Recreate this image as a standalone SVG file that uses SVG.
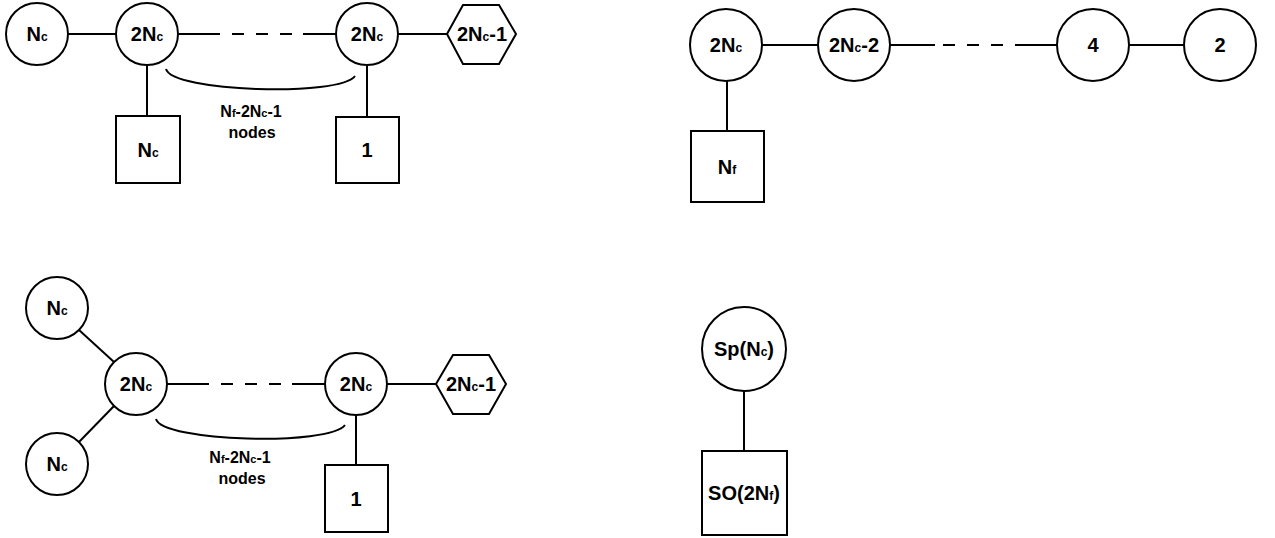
<svg xmlns="http://www.w3.org/2000/svg" width="1275" height="538" viewBox="0 0 1275 538">
<style>
.n{fill:#fff;stroke:#000;stroke-width:2}
.e{fill:none;stroke:#000;stroke-width:2}
.d{fill:none;stroke:#000;stroke-width:2;stroke-dasharray:12 12}
.t{font-family:"Liberation Sans",Arial,Helvetica,sans-serif;font-weight:bold;font-size:20px;fill:#000;text-anchor:middle}
.s{font-size:12px}
.l{font-family:"Liberation Sans",Arial,Helvetica,sans-serif;font-weight:bold;font-size:16px;fill:#000;text-anchor:middle}
.l .s{font-size:11px}
</style>
<g id="connectors">
  <line class="e" x1="68" y1="34" x2="116" y2="34"/>
  <line class="e" x1="178" y1="34" x2="208" y2="34"/>
  <line class="d" x1="208" y1="34" x2="303" y2="34"/>
  <line class="e" x1="303" y1="34" x2="336" y2="34"/>
  <line class="e" x1="398" y1="34" x2="447" y2="34"/>
  <line class="e" x1="147" y1="65" x2="147" y2="116"/>
  <line class="e" x1="367" y1="65" x2="367" y2="117"/>
  <path class="e" d="M166,69 C172,92 340,97 355,76"/>
  <line class="e" x1="762" y1="45" x2="818" y2="45"/>
  <line class="e" x1="890" y1="45" x2="935" y2="45"/>
  <line class="d" x1="943" y1="45" x2="1022" y2="45"/>
  <line class="e" x1="1022" y1="45" x2="1057" y2="45"/>
  <line class="e" x1="1128" y1="45" x2="1185" y2="45"/>
  <line class="e" x1="727" y1="81" x2="727" y2="131"/>
  <line class="e" x1="79" y1="330" x2="114" y2="362"/>
  <line class="e" x1="79" y1="442" x2="114" y2="406"/>
  <line class="e" x1="167" y1="384" x2="197" y2="384"/>
  <line class="d" x1="197" y1="384" x2="292" y2="384"/>
  <line class="e" x1="292" y1="384" x2="325" y2="384"/>
  <line class="e" x1="387" y1="384" x2="436" y2="384"/>
  <line class="e" x1="356" y1="415" x2="356" y2="465"/>
  <path class="e" d="M156,419 C162,442 330,446 345,425"/>
  <line class="e" x1="744" y1="391" x2="744" y2="451"/>
</g>
<g id="tl-nc"><circle class="n" cx="37" cy="34" r="31"/><text class="t" x="37" y="41">N<tspan class="s">c</tspan></text></g>
<g id="tl-2nc-a"><circle class="n" cx="147" cy="34" r="31"/><text class="t" x="147" y="41">2N<tspan class="s">c</tspan></text></g>
<g id="tl-2nc-b"><circle class="n" cx="367" cy="34" r="31"/><text class="t" x="367" y="41">2N<tspan class="s">c</tspan></text></g>
<g id="tl-hex"><polygon class="n" points="447,34 463,5 499,5 516,34 499,64 463,64"/><text class="t" x="482" y="41">2N<tspan class="s">c</tspan>-1</text></g>
<g id="tl-sq-nc"><rect class="n" x="116" y="116" width="64" height="67"/><text class="t" x="148" y="157">N<tspan class="s">c</tspan></text></g>
<g id="tl-sq-1"><rect class="n" x="336" y="117" width="63" height="66"/><text class="t" x="367" y="157">1</text></g>
<g id="tl-label"><text class="l" x="251" y="117">N<tspan class="s">f</tspan>-2N<tspan class="s">c</tspan>-1</text><text class="l" x="252" y="138">nodes</text></g>

<g id="tr-2nc"><circle class="n" cx="726" cy="45" r="36"/><text class="t" x="726" y="52">2N<tspan class="s">c</tspan></text></g>
<g id="tr-2nc2"><circle class="n" cx="854" cy="45" r="36"/><text class="t" x="854" y="52">2N<tspan class="s">c</tspan>-2</text></g>
<g id="tr-4"><circle class="n" cx="1093" cy="45" r="36"/><text class="t" x="1093" y="52">4</text></g>
<g id="tr-2"><circle class="n" cx="1220" cy="45" r="36"/><text class="t" x="1220" y="52">2</text></g>
<g id="tr-nf"><rect class="n" x="691" y="131" width="73" height="71"/><text class="t" x="727" y="174">N<tspan class="s">f</tspan></text></g>

<g id="bl-nc-a"><circle class="n" cx="57" cy="308" r="31"/><text class="t" x="57" y="315">N<tspan class="s">c</tspan></text></g>
<g id="bl-nc-b"><circle class="n" cx="57" cy="464" r="31"/><text class="t" x="57" y="471">N<tspan class="s">c</tspan></text></g>
<g id="bl-2nc-a"><circle class="n" cx="136" cy="384" r="31"/><text class="t" x="136" y="391">2N<tspan class="s">c</tspan></text></g>
<g id="bl-2nc-b"><circle class="n" cx="356" cy="384" r="31"/><text class="t" x="356" y="391">2N<tspan class="s">c</tspan></text></g>
<g id="bl-hex"><polygon class="n" points="436,384 453,355 489,355 506,384 489,414 453,414"/><text class="t" x="471" y="391">2N<tspan class="s">c</tspan>-1</text></g>
<g id="bl-sq-1"><rect class="n" x="325" y="465" width="63" height="67"/><text class="t" x="356" y="506">1</text></g>
<g id="bl-label"><text class="l" x="240" y="463">N<tspan class="s">f</tspan>-2N<tspan class="s">c</tspan>-1</text><text class="l" x="242" y="484">nodes</text></g>

<g id="br-sp"><circle class="n" cx="744" cy="349" r="42"/><text class="t" x="744" y="356">Sp(N<tspan class="s">c</tspan>)</text></g>
<g id="br-so"><rect class="n" x="702" y="451" width="85" height="84"/><text class="t" x="744" y="500">SO(2N<tspan class="s">f</tspan>)</text></g>
</svg>
